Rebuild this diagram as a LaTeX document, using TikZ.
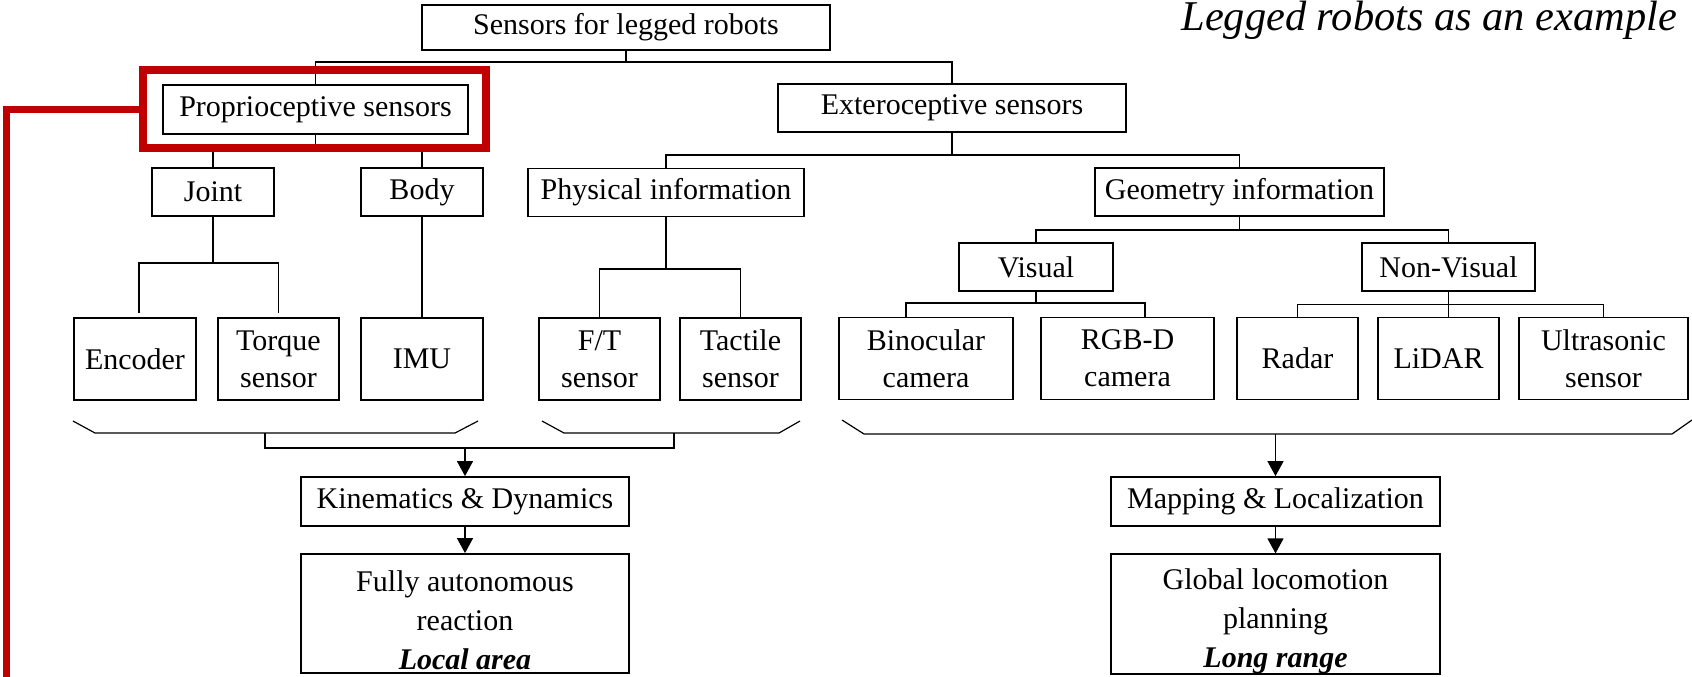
\documentclass[tikz,border=0pt]{standalone}
\usepackage{fontspec}
\setmainfont{Liberation Serif}
\usetikzlibrary{arrows.meta,calc}
\definecolor{hlred}{RGB}{192,0,0}
\begin{document}
\begin{tikzpicture}[x=0.5pt,y=-0.5pt,
  box/.style={draw,line width=0.9pt,inner sep=0pt,align=center,font=\fontsize{15}{18.5}\selectfont},
  tallbox/.style={box,font=\fontsize{15}{19.5}\selectfont},
  conn/.style={draw,line width=0.6pt},
  arr/.style={conn,-{Triangle[length=7.5pt,width=8pt]}},
  hl/.style={draw=hlred,line width=3.6pt}]
\useasboundingbox (0,0) rectangle (1692,676);

\node[anchor=base east,font=\fontsize{21.2}{24}\selectfont\itshape] (title) at (1684,30) {Legged robots as an example};

\node[box,minimum width=204pt,minimum height=22.5pt] (sensors) at (626,27.5) {Sensors for legged robots};
\node[box,minimum width=152.5pt,minimum height=24.5pt] (proprio) at (315.5,109.5) {Proprioceptive sensors};
\node[box,minimum width=174pt,minimum height=24pt] (extero) at (952,108) {Exteroceptive sensors};

\node[box,minimum width=61pt,minimum height=24pt] (joint) at (213,192) {Joint};
\node[box,minimum width=61pt,minimum height=24pt] (body) at (422,192) {Body};
\node[box,minimum width=138pt,minimum height=24pt] (physical) at (666,192.5) {Physical information};
\node[box,minimum width=144.5pt,minimum height=24pt] (geometry) at (1239.5,192) {Geometry information};
\node[box,minimum width=77pt,minimum height=24pt] (visual) at (1036,267) {Visual};
\node[box,minimum width=86.5pt,minimum height=24pt] (nonvisual) at (1448.5,267) {Non-Visual};

\node[box,minimum width=61pt,minimum height=41pt] (encoder) at (135,359) {Encoder};
\node[box,minimum width=60.5pt,minimum height=41pt] (torque) at (278.5,359) {Torque\\sensor};
\node[box,minimum width=61pt,minimum height=41pt] (imu) at (422,359) {IMU};
\node[box,minimum width=60.5pt,minimum height=41pt] (ft) at (599.5,359) {F/T\\sensor};
\node[box,minimum width=60.5pt,minimum height=41pt] (tactile) at (740.5,359) {Tactile\\sensor};
\node[box,minimum width=87pt,minimum height=41pt] (binocular) at (926,358.5) {Binocular\\camera};
\node[box,minimum width=86.5pt,minimum height=41pt] (rgbd) at (1127.5,358.5) {RGB-D\\camera};
\node[box,minimum width=60.5pt,minimum height=41pt] (radar) at (1297.5,358.5) {Radar};
\node[box,minimum width=60.5pt,minimum height=41pt] (lidar) at (1438.5,358.5) {LiDAR};
\node[box,minimum width=84.5pt,minimum height=41pt] (ultrasonic) at (1603.5,358.5) {Ultrasonic\\sensor};

\node[box,minimum width=164pt,minimum height=24.5pt] (kin) at (465,501.5) {Kinematics \& Dynamics};
\node[tallbox,minimum width=164pt,minimum height=59.5pt] (fully) at (465,613.5) {\rule{0pt}{17pt}Fully autonomous\\reaction\\\textbf{\textit{Local area}}};
\node[box,minimum width=164.5pt,minimum height=24.5pt] (mapping) at (1275.5,501.5) {Mapping \& Localization};
\node[tallbox,minimum width=164.5pt,minimum height=59pt] (global) at (1275.5,614) {\rule{0pt}{17.5pt}Global locomotion\\planning\\\textbf{\textit{Long range}}};

% tree connectors
\coordinate (c1) at (626,62);
\draw[conn] (sensors.south) -- (c1);
\draw[conn] (proprio.north) |- (c1) -| (extero.north);

\coordinate (c2) at (315.5,149);
\draw[conn] (proprio.south) -- (c2);
\draw[conn] (joint.north) |- (c2) -| (body.north);

\coordinate (c3) at (213,263);
\draw[conn] (joint.south) -- (c3);
\draw[conn,shorten <=2pt,shorten >=2pt] ($(encoder.north)+(4,0)$) |- (c3) -| (torque.north);
\draw[conn] (body.south) -- (imu.north);

\coordinate (c4) at (666,269);
\draw[conn] (physical.south) -- (c4);
\draw[conn] (ft.north) |- (c4) -| (tactile.north);

\coordinate (c5) at (952,155);
\draw[conn] (extero.south) -- (c5);
\draw[conn] (physical.north) |- (c5) -| (geometry.north);

\coordinate (c6) at (1239.5,230);
\draw[conn] (geometry.south) -- (c6);
\draw[conn] (visual.north) |- (c6) -| (nonvisual.north);

\coordinate (c7) at (1036,303);
\draw[conn] (visual.south) -- (c7);
\draw[conn] ($(binocular.north)+(-20,0)$) |- (c7) -| ($(rgbd.north)+(17.5,0)$);

\coordinate (c8) at (1448.5,304.5);
\draw[conn] (nonvisual.south) -- (nonvisual.south |- lidar.north);
\draw[conn] (radar.north) |- (c8) -| (ultrasonic.north);

% braces
\draw[conn] (73,421) -- (95,433) -- (455,433) -- (478,421);
\draw[conn] (542,421) -- (564,433) -- (779,433) -- (800,421);
\draw[conn] (842,420) -- (864,434) -- (1672,434) -- (1692,420);
\coordinate (bl) at (265,433);
\coordinate (br) at (674,433);
\coordinate (a1) at (465,448);
\draw[conn] (bl) |- (a1) -| (br);
\draw[arr] (a1) -- (kin.north);
\coordinate (a2) at (1275.5,434);
\draw[arr] (a2) -- (mapping.north);
\draw[arr] (kin.south) -- (fully.north);
\draw[arr] (mapping.south) -- (global.north);

% highlight
\draw[hl] (143,70) rectangle (486,148);
\draw[hl] (143,109.5) -| (6.5,690);
\end{tikzpicture}
\end{document}
